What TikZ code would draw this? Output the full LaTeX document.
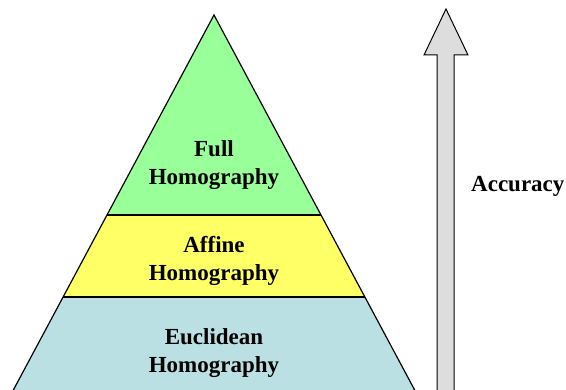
\documentclass[tikz,border=0pt]{standalone}
\usepackage{fontspec}
\setmainfont{Liberation Serif}
\definecolor{topgreen}{HTML}{99FF99}
\definecolor{midyellow}{HTML}{FFFF66}
\definecolor{lowteal}{HTML}{BBE0E3}
\definecolor{arrowgray}{HTML}{DDDDDD}
\begin{document}
\begin{tikzpicture}[x=1pt,y=-1pt,
  band/.style={draw=black,line width=1.2pt,line join=miter},
  lbl/.style={font=\bfseries\fontsize{23}{28}\selectfont,align=center,text=black,inner sep=0pt}]
\useasboundingbox (0,0) rectangle (566,390);
\begin{scope}
\clip (0,0) rectangle (566,390);
% bands
\fill[lowteal] (63,297) -- (365,297) -- (420,400) -- (8,400) -- cycle;
\fill[midyellow] (107,215) -- (321,215) -- (365,297) -- (63,297) -- cycle;
\fill[topgreen] (214,15) -- (321,215) -- (107,215) -- cycle;
\draw[band] (8,400) -- (214,15) -- (420,400);
\draw[band] (107,215) -- (321,215);
\draw[band] (63,297) -- (365,297);
% arrow
\draw[fill=arrowgray,line width=1pt,line join=miter] (437,400) -- (437,55) -- (424,55) -- (446,9) -- (468,55) -- (454,55) -- (454,400);
\end{scope}
\node[lbl] (full) at (214,164.7) {Full\\Homography};
\node[lbl] (affine) at (214,260.7) {Affine\\Homography};
\node[lbl] (eucl) at (214,352.7) {Euclidean\\Homography};
\node[lbl,anchor=base west] (acc) at (471,192) {Accuracy};
\end{tikzpicture}
\end{document}
